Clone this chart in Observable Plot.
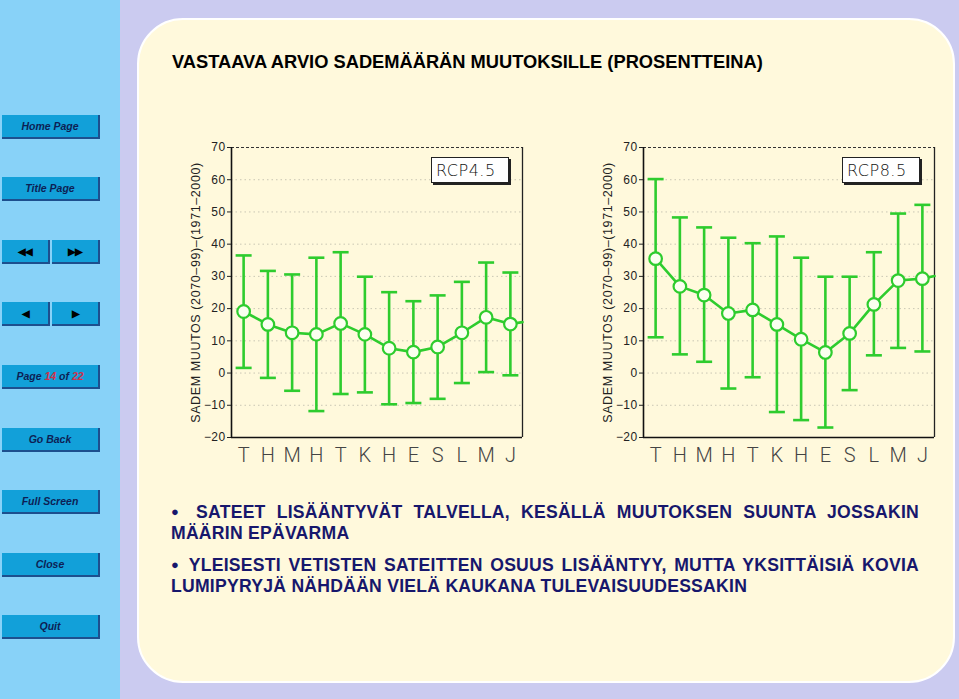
<!DOCTYPE html>
<html>
<head>
<meta charset="utf-8">
<script src="https://cdn.jsdelivr.net/npm/d3@7"></script>
<script src="https://cdn.jsdelivr.net/npm/@observablehq/plot@0.6"></script>
<style>
  html, body { margin: 0; padding: 0; }
  body { width: 959px; height: 699px; background: #cbcbf0; position: relative; overflow: hidden; font-family: "Liberation Sans", Arial, sans-serif; }
  #sidebar { position: absolute; left: 0; top: 0; width: 120px; height: 699px; background: #88d2f8; }
  .btn { position: absolute; left: 2px; width: 96px; height: 22px; background: #12a0d9; border-right: 2px solid #1d4f8e; border-bottom: 2px solid #1d4f8e; color: #0d1f55; font: italic bold 10.5px "Liberation Sans", Arial, sans-serif; display: flex; align-items: center; justify-content: center; }
  .half { width: 46px; font-size: 10px; font-style: normal; color: #000; letter-spacing: -1px; }
  .red { color: #d0304a; }
  #panel { position: absolute; left: 137px; top: 18px; width: 814px; height: 661px; background: #fff9dc; border: 2px solid #ffffff; border-radius: 46px; }
  #title { position: absolute; left: 172px; top: 51px; font: bold 18.3px "Liberation Sans", Arial, sans-serif; color: #000; white-space: nowrap; }
  .chart { position: absolute; top: 135px; }
  .legend { position: absolute; top: 157px; width: 72px; height: 24px; background: #fff; border: 1px solid #222; box-shadow: 2px 2px 0 #222; font: 16px "DejaVu Sans", sans-serif; font-weight: 200; color: #111; display: flex; align-items: center; padding-left: 4px; letter-spacing: 0.5px; }
  #bullets { position: absolute; left: 171px; top: 501px; width: 748px; color: #17176c; font: bold 17.6px "Liberation Sans", Arial, sans-serif; line-height: 21px; letter-spacing: 0.25px; }
  #bullets .para { margin: 0 0 10px 0; }
  #bullets .l1 { text-align: justify; text-align-last: justify; white-space: nowrap; }
  #bullets .l2 { text-align: left; white-space: nowrap; }
  #bullets .dot { font-size: 13px; vertical-align: 2px; }
</style>
</head>
<body>
<div id="sidebar"></div>
<div id="panel"></div>
<div id="title">VASTAAVA ARVIO SADEMÄÄRÄN MUUTOKSILLE (PROSENTTEINA)</div>
<div id="charts"></div>
<div id="bullets">
  <div class="para"><div class="l1"><span class="dot">&#9679;</span> SATEET LISÄÄNTYVÄT TALVELLA, KESÄLLÄ MUUTOKSEN SUUNTA JOSSAKIN</div><div class="l2">MÄÄRIN EPÄVARMA</div></div>
  <div class="para"><div class="l1"><span class="dot">&#9679;</span> YLEISESTI VETISTEN SATEITTEN OSUUS LISÄÄNTYY, MUTTA YKSITTÄISIÄ KOVIA</div><div class="l2">LUMIPYRYJÄ NÄHDÄÄN VIELÄ KAUKANA TULEVAISUUDESSAKIN</div></div>
</div>
<script>
// ---- data ----
const monthLabels = ["T","H","M","H","T","K","H","E","S","L","M","J"];
const yTicks = [-20,-10,0,10,20,30,40,50,60,70];
const gridTicks = [-10,0,10,20,30,40,50,60];
const yLabel = "SADEM MUUTOS (2070–99)–(1971–2000)";

const rcp45Mean  = [19.1, 15.1, 12.5, 12.0, 15.4, 12.0, 7.7, 6.5, 8.1, 12.5, 17.3, 15.2];
const rcp45Upper = [36.5, 31.7, 30.6, 35.8, 37.5, 29.9, 25.1, 22.3, 24.1, 28.3, 34.3, 31.2];
const rcp45Lower = [1.6, -1.5, -5.5, -11.8, -6.5, -6.0, -9.7, -9.3, -8.0, -3.1, 0.3, -0.7];
const rcp45Edge  = 15.8;

const rcp85Mean  = [35.5, 26.9, 24.2, 18.5, 19.6, 15.1, 10.5, 6.4, 12.3, 21.3, 28.7, 29.3];
const rcp85Upper = [60.2, 48.3, 45.2, 42.0, 40.3, 42.4, 35.8, 29.9, 29.9, 37.5, 49.5, 52.2];
const rcp85Lower = [11.1, 5.8, 3.5, -4.8, -1.3, -12.1, -14.6, -16.9, -5.3, 5.5, 7.8, 6.7];
const rcp85Edge  = 30.1;

const sideButtons = [
  {label: "Home Page", top: 115},
  {label: "Title Page", top: 177},
  {pair: ["◀◀", "▶▶"], top: 240},
  {pair: ["◀", "▶"], top: 302},
  {page: true, top: 365},
  {label: "Go Back", top: 428},
  {label: "Full Screen", top: 490},
  {label: "Close", top: 553},
  {label: "Quit", top: 615}
];

// ---- sidebar ----
const sb = document.getElementById("sidebar");
for (const b of sideButtons) {
  if (b.pair) {
    b.pair.forEach((g, i) => {
      const d = document.createElement("div");
      d.className = "btn half";
      d.style.top = b.top + "px";
      d.style.left = (2 + i * 50) + "px";
      d.textContent = g;
      sb.appendChild(d);
    });
  } else {
    const d = document.createElement("div");
    d.className = "btn";
    d.style.top = b.top + "px";
    if (b.page) d.innerHTML = 'Page&nbsp;<span class="red">14</span>&nbsp;of&nbsp;<span class="red">22</span>';
    else d.textContent = b.label;
    sb.appendChild(d);
  }
}

// ---- charts ----
const green = "#2ecc2e";
function makeChart(mean, upper, lower, edge) {
  const rows = mean.map((m, i) => ({x: i + 1, m, u: upper[i], l: lower[i]}));
  const lineRows = rows.concat([{x: 12.5, m: edge}]);
  const cap = 0.33;
  const svg = Plot.plot({
    width: 357, height: 342,
    marginLeft: 51, marginRight: 15, marginTop: 12, marginBottom: 40,
    x: {domain: [0.5, 12.5]},
    y: {domain: [-20, 70]},
    style: {background: "transparent", fontFamily: "'Liberation Sans', Arial, sans-serif", fontSize: "12px", color: "#222"},
    marks: [
      Plot.ruleY(gridTicks, {stroke: "#c9c6b4", strokeDasharray: "1.5,3", strokeWidth: 1}),
      Plot.ruleY([70], {stroke: "#333", strokeDasharray: "3,2", strokeWidth: 1}),
      Plot.ruleY([-20], {stroke: "#111", strokeWidth: 1.6}),
      Plot.ruleX([0.5], {stroke: "#111", strokeWidth: 1.6}),
      Plot.ruleX([12.5], {stroke: "#222", strokeWidth: 1.3}),
      Plot.axisY({ticks: yTicks, tickSize: 4, tickPadding: 2, tickFormat: d => d < 0 ? "−" + Math.abs(d) : d,
        label: yLabel, labelAnchor: "center", labelArrow: "none", labelOffset: 40, fontSize: 12}),
      Plot.axisX({ticks: d3.range(1, 13), tickFormat: d => monthLabels[d - 1], tickSize: 0, tickPadding: 10,
        fontSize: 20, label: null, fill: "#444", fontWeight: 300, fontFamily: "Roboto, 'DejaVu Sans', sans-serif"}),
      Plot.ruleX(rows, {x: "x", y1: "l", y2: "u", stroke: green, strokeWidth: 2.6}),
      Plot.link(rows, {x1: d => d.x - cap, x2: d => d.x + cap, y1: "u", y2: "u", stroke: green, strokeWidth: 2.6}),
      Plot.link(rows, {x1: d => d.x - cap, x2: d => d.x + cap, y1: "l", y2: "l", stroke: green, strokeWidth: 2.6}),
      Plot.line(lineRows, {x: "x", y: "m", stroke: green, strokeWidth: 2.6}),
      Plot.dot(rows, {x: "x", y: "m", r: 6.3, fill: "#fbfff0", stroke: green, strokeWidth: 2.2})
    ]
  });
  d3.select(svg).selectAll('[aria-label="y-axis label"] text').attr("letter-spacing", "0.6px").style("font-size", "12.5px");
  d3.select(svg).selectAll('[aria-label="y-axis tick label"] text').attr("letter-spacing", "0.4px");
  return svg;
}

const charts = document.getElementById("charts");
[[rcp45Mean, rcp45Upper, rcp45Lower, rcp45Edge, 180, "RCP4.5", 431],
 [rcp85Mean, rcp85Upper, rcp85Lower, rcp85Edge, 592, "RCP8.5", 842]].forEach(([m, u, l, e, left, name, lx]) => {
  const wrap = document.createElement("div");
  wrap.className = "chart";
  wrap.style.left = left + "px";
  wrap.appendChild(makeChart(m, u, l, e));
  charts.appendChild(wrap);
  const lg = document.createElement("div");
  lg.className = "legend";
  lg.style.left = lx + "px";
  lg.textContent = name;
  charts.appendChild(lg);
});
</script>
</body>
</html>
